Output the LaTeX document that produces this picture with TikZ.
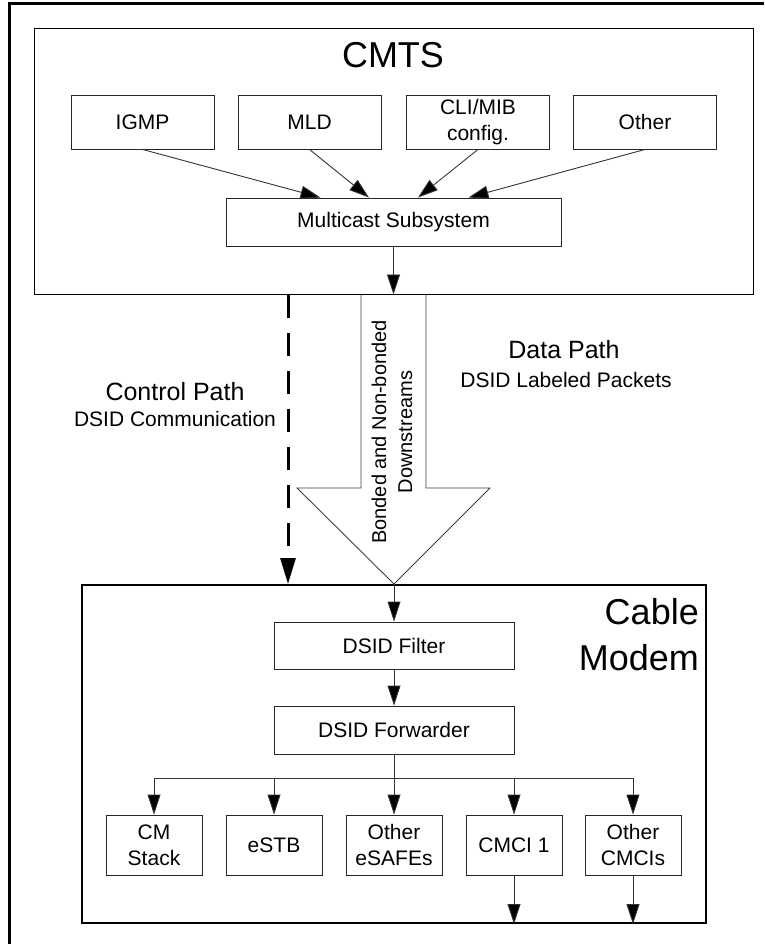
\documentclass[tikz,border=0pt]{standalone}
\usepackage{fontspec}
\setmainfont{Liberation Sans}
\usetikzlibrary{arrows.meta}
\begin{document}
\begin{tikzpicture}[x=1pt,y=-1pt,
  box/.style={draw=black!85, line width=0.9pt, inner sep=0pt, align=center,
    font=\fontsize{21}{26}\selectfont},
  smallbox/.style={box, minimum width=143pt, minimum height=54pt},
  midbox/.style={box, minimum width=240pt, minimum height=47pt},
  leafbox/.style={box, minimum width=96pt, minimum height=60pt},
  arr/.style={draw=black!80, line width=0.9pt, -{Triangle[length=20pt,width=13pt,fill=black]}},
  biglabel/.style={font=\fontsize{36}{46}\selectfont, inner sep=0pt},
  pathlabel/.style={font=\fontsize{25}{30}\selectfont, inner sep=0pt, anchor=base},
  sublabel/.style={font=\fontsize{21}{26}\selectfont, inner sep=0pt, anchor=base}]
\useasboundingbox (0,0) rectangle (764,944);
% outer frame (cut at right and bottom)
\draw[line width=3pt] (9,944) -- (9,4) -- (764,4);

% CMTS
\node[draw=black, line width=1pt, minimum width=719pt, minimum height=265pt, inner sep=0pt] (cmts) at (393.5,161.5) {};
\node[biglabel, anchor=base] (cmtslbl) at (393,68) {CMTS};
\node[smallbox] (igmp) at (142.5,122) {IGMP};
\node[smallbox] (mld) at (309.5,122) {MLD};
\node[smallbox] (cli) at (478,122) {CLI/MIB\\config.};
\node[smallbox] (oth) at (645,122) {Other};
\node[box, minimum width=335pt, minimum height=48pt] (ms) at (393.5,222) {Multicast Subsystem};
\draw[arr] (igmp.south) -- ([xshift=-73pt]ms.north);
\draw[arr] (mld.south) -- ([xshift=-24.5pt]ms.north);
\draw[arr] (cli.south) -- ([xshift=24.5pt]ms.north);
\draw[arr] (oth.south) -- ([xshift=75pt]ms.north);
\draw[arr] (ms.south) -- (ms.south |- cmts.south);

% Cable modem
\node[draw=black, line width=2pt, minimum width=624pt, minimum height=338pt, inner sep=0pt] (cm) at (394,754) {};
\node[biglabel, anchor=base east] (cmlbl1) at (699,624) {Cable};
\node[biglabel, anchor=base east] (cmlbl2) at (699,670) {Modem};
\node[midbox] (filt) at (394,645.5) {DSID Filter};
\node[midbox, minimum height=48pt] (fwd) at (394,730) {DSID Forwarder};
\node[leafbox] (b1) at (154,845) {CM\\Stack};
\node[leafbox] (b2) at (274,845) {eSTB};
\node[leafbox] (b3) at (394,845) {Other\\eSAFEs};
\node[leafbox] (b4) at (514,845) {CMCI 1};
\node[leafbox] (b5) at (633,845) {Other\\CMCIs};
\draw[arr] (cm.north) -- (filt.north);
\draw[arr] (filt.south) -- (fwd.north);
\coordinate (br) at (394,778);
\draw[draw=black!80, line width=0.9pt] (fwd.south) -- (br);
\draw[draw=black!80, line width=0.9pt] (b1.north |- br) -- (b5.north |- br);
\foreach \b in {b1,b2,b3,b4,b5} {
  \draw[arr] (\b.north |- br) -- (\b.north);
}
\draw[arr] (b4.south) -- (b4.south |- cm.south);
\draw[arr] (b5.south) -- (b5.south |- cm.south);

% big data-path arrow
\draw[draw=black!75, line width=0.9pt] (361,294.5) -- (361,488) -- (297,488) -- (394,584) -- (490,488) -- (426,488) -- (426,294.5);
\node[rotate=90, align=center, inner sep=0pt, font=\fontsize{20}{26}\selectfont] (dslbl) at (392,432) {Bonded and Non-bonded\\Downstreams};

% control path dashed arrow
\coordinate (cp) at (288,294.5);
\draw[line width=3pt, dash pattern=on 23pt off 15pt, -{Triangle[length=26pt,width=15pt]}] (cp) -- (cp |- cm.north);

% labels
\node[pathlabel] (ctl) at (175,400) {Control Path};
\node[sublabel] (ctl2) at (175,426) {DSID Communication};
\node[pathlabel] (dp) at (564,358) {Data Path};
\node[sublabel] (dp2) at (566,387) {DSID Labeled Packets};
\end{tikzpicture}
\end{document}
